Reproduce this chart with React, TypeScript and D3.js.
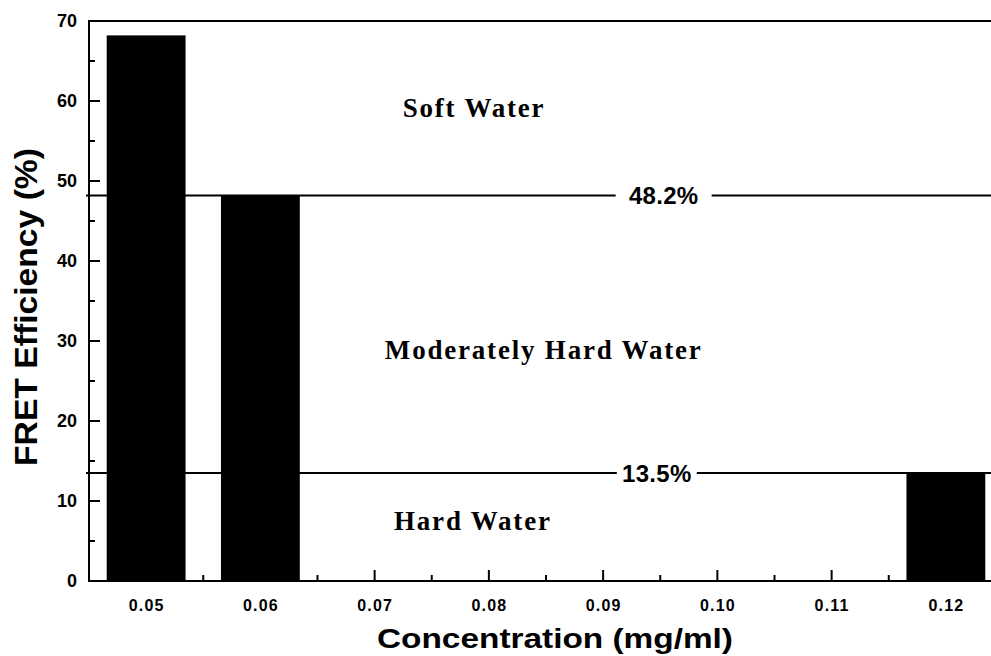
import React, { useEffect, useRef } from "react";
import * as d3 from "d3";

// data
const concentrations = [0.05, 0.06, 0.12];
const efficiencies = [68.2, 48.2, 13.5];
const xTicks = [0.05, 0.06, 0.07, 0.08, 0.09, 0.1, 0.11, 0.12];
const xTickLabels = ["0.05", "0.06", "0.07", "0.08", "0.09", "0.10", "0.11", "0.12"];
const yTicks = [0, 10, 20, 30, 40, 50, 60, 70];
const thresholdValues = [48.2, 13.5];
const thresholdLabels = ["48.2%", "13.5%"];
const regionNames = ["Soft Water", "Moderately Hard Water", "Hard Water"];

// layout bits (kept apart from the data)
const thresholdLabelX = [0.0953, 0.0947];
const thresholdGap = [48, 40];
const regionPos = [
  { x: 0.0787, y: 58.0 },
  { x: 0.0848, y: 27.8 },
  { x: 0.0786, y: 6.4 },
];

const W = 991;
const H = 656;
const SANS = "'Liberation Sans', Arial, sans-serif";
const SERIF = "'Liberation Serif', 'Times New Roman', serif";

export default function App() {
  const ref = useRef<SVGSVGElement>(null);

  useEffect(() => {
    const svg = d3.select(ref.current);
    svg.selectAll("*").remove();

    const left = 89, top = 21, bottom = 581, right = 1003;
    const x = d3.scaleLinear().domain([0.045, 0.125]).range([left, right]);
    const y = d3.scaleLinear().domain([0, 70]).range([bottom, top]);
    const barW = x(0.0569) - x(0.05);

    const g = svg.append("g");

    // bars
    g.selectAll(".bar")
      .data(concentrations)
      .join("rect")
      .attr("class", "bar")
      .attr("x", (d) => x(d) - barW / 2)
      .attr("y", (d, i) => y(efficiencies[i]))
      .attr("width", barW)
      .attr("height", (d, i) => y(0) - y(efficiencies[i]))
      .attr("fill", "#000");

    // threshold lines with a gap for the label
    thresholdValues.forEach((v, i) => {
      const cx = x(thresholdLabelX[i]);
      const yy = y(v);
      [[left - 3, cx - thresholdGap[i]], [cx + thresholdGap[i], right]].forEach(([a, b]) => {
        g.append("line")
          .attr("x1", a).attr("x2", b)
          .attr("y1", yy).attr("y2", yy)
          .attr("stroke", "#000")
          .attr("stroke-width", 2);
      });
      g.append("text")
        .attr("x", cx)
        .attr("y", yy + 9)
        .attr("text-anchor", "middle")
        .style("font-family", SANS)
        .style("font-weight", "bold")
        .style("font-size", "24px")
        .style("letter-spacing", "0.3px")
        .text(thresholdLabels[i]);
    });

    // region names
    regionNames.forEach((name, i) => {
      g.append("text")
        .attr("x", x(regionPos[i].x))
        .attr("y", y(regionPos[i].y))
        .attr("text-anchor", "middle")
        .style("font-family", SERIF)
        .style("font-weight", "bold")
        .style("font-size", "27px")
        .style("letter-spacing", "1.8px")
        .text(name);
    });

    // frame: left, bottom, top
    g.append("path")
      .attr("d", `M${right},${top}H${left}V${bottom}H${right}`)
      .attr("fill", "none")
      .attr("stroke", "#000")
      .attr("stroke-width", 2);

    // x axis ticks (inward)
    const xAxis = d3.axisBottom(x).tickValues(xTicks).tickSize(0).tickPadding(19)
      .tickFormat((d, i) => xTickLabels[i]);
    const xg = g.append("g").attr("transform", `translate(0,${bottom})`).call(xAxis);
    xg.select(".domain").remove();
    xg.selectAll("text")
      .style("font-family", SANS)
      .style("font-weight", "bold")
      .style("font-size", "16px")
      .style("letter-spacing", "1.2px");
    const xMinor = xTicks.map((t) => t + 0.005);
    g.selectAll(".xmaj").data(xTicks).join("line").attr("class", "xmaj")
      .attr("x1", (d) => x(d)).attr("x2", (d) => x(d))
      .attr("y1", bottom).attr("y2", bottom - 11)
      .attr("stroke", "#000").attr("stroke-width", 2);
    g.selectAll(".xmin").data(xMinor).join("line").attr("class", "xmin")
      .attr("x1", (d) => x(d)).attr("x2", (d) => x(d))
      .attr("y1", bottom).attr("y2", bottom - 6)
      .attr("stroke", "#000").attr("stroke-width", 2);

    // y axis ticks (inward)
    const yAxis = d3.axisLeft(y).tickValues(yTicks).tickSize(0).tickPadding(12);
    const yg = g.append("g").attr("transform", `translate(${left},0)`).call(yAxis);
    yg.select(".domain").remove();
    yg.selectAll("text")
      .style("font-family", SANS)
      .style("font-weight", "bold")
      .style("font-size", "18px");
    const yMinor = yTicks.slice(0, -1).map((t) => t + 5);
    g.selectAll(".ymaj").data(yTicks).join("line").attr("class", "ymaj")
      .attr("x1", left).attr("x2", left + 11)
      .attr("y1", (d) => y(d)).attr("y2", (d) => y(d))
      .attr("stroke", "#000").attr("stroke-width", 2);
    g.selectAll(".ymin").data(yMinor).join("line").attr("class", "ymin")
      .attr("x1", left).attr("x2", left + 6)
      .attr("y1", (d) => y(d)).attr("y2", (d) => y(d))
      .attr("stroke", "#000").attr("stroke-width", 2);

    // axis titles
    svg.append("text")
      .attr("x", 555)
      .attr("y", 648)
      .attr("text-anchor", "middle")
      .attr("textLength", 356)
      .attr("lengthAdjust", "spacingAndGlyphs")
      .style("font-family", SANS)
      .style("font-weight", "bold")
      .style("font-size", "28px")
      .text("Concentration (mg/ml)");

    svg.append("text")
      .attr("transform", `translate(37,307) rotate(-90)`)
      .attr("text-anchor", "middle")
      .attr("textLength", 318)
      .attr("lengthAdjust", "spacingAndGlyphs")
      .style("font-family", SANS)
      .style("font-weight", "bold")
      .style("font-size", "32px")
      .text("FRET Efficiency (%)");
  }, []);

  return (
    <svg
      ref={ref}
      width={W}
      height={H}
      style={{ position: "absolute", left: 0, top: 0, background: "#fff", overflow: "hidden" }}
    />
  );
}
